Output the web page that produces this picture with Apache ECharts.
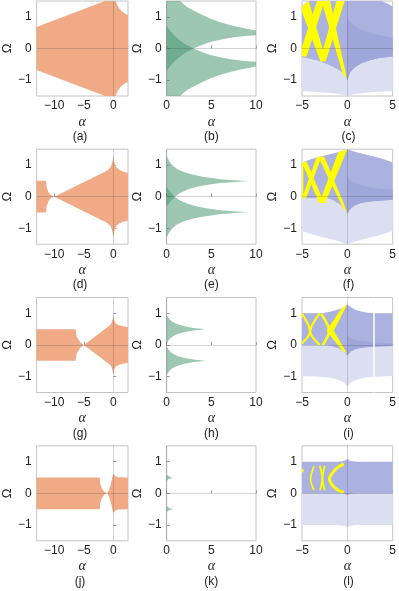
<!DOCTYPE html>
<html><head><meta charset="utf-8">
<script src="https://cdn.jsdelivr.net/npm/echarts@6/dist/echarts.min.js"></script>
<style>html,body{margin:0;padding:0;background:#fff}#c{width:399px;height:591px}</style>
</head><body><div id="c"></div>
<script>
// ---------- axes ----------
const xRangeOrange=[-13,2.5], xTicksOrange=[-10,-5,0];
const xRangeGreen=[0,10],     xTicksGreen=[0,5,10];
const xRangeBlue=[-5,5],      xTicksBlue=[-5,0,5];
const yRange=[-1.5,1.5],      yTicks=[-1,0,1];
const letters=['(a)','(b)','(c)','(d)','(e)','(f)','(g)','(h)','(i)','(j)','(k)','(l)'];

// ---------- column 1 (orange) ----------
const a_fill=[[-13,0.68],[-1.4,1.5],[0.4,1.5],[0.8,1.32],[1.5,1.16],[2.5,1.05],[2.5,-1.05],[1.5,-1.16],[0.8,-1.32],[0.4,-1.5],[-1.4,-1.5],[-13,-0.68]];
const d_fill=[[-13,0.5],[-11.4,0.5],[-11.3,0.3],[-11.0,0.15],[-10.6,0.05],[-10,0],[-1,0.83],[-0.4,0.95],[-0.12,1.12],[0,1.32],[0.12,1.12],[0.4,0.95],[1,0.85],[1.7,0.79],[2.5,0.75],
  [2.5,-0.75],[1.7,-0.79],[1,-0.85],[0.4,-0.95],[0.12,-1.12],[0,-1.32],[-0.12,-1.12],[-0.4,-0.95],[-1,-0.83],[-10,0],[-10.6,-0.05],[-11.0,-0.15],[-11.3,-0.3],[-11.4,-0.5],[-13,-0.5]];
const g_fill=[[-13,0.5],[-6.4,0.5],[-6.2,0.27],[-5.6,0.09],[-5,0],[-1,0.56],[-0.4,0.65],[-0.12,0.8],[0,0.95],[0.12,0.8],[0.4,0.68],[1,0.62],[2.5,0.56],
  [2.5,-0.56],[1,-0.62],[0.4,-0.68],[0.12,-0.8],[0,-0.95],[-0.12,-0.8],[-0.4,-0.65],[-1,-0.56],[-5,0],[-5.6,-0.09],[-6.2,-0.27],[-6.4,-0.5],[-13,-0.5]];
const j_fill=[[-13,0.5],[-2.3,0.5],[-2.2,0.3],[-1.9,0.14],[-1.5,0.04],[-1,0],[-0.8,0.08],[-0.5,0.22],[-0.25,0.42],[-0.05,0.58],[0.05,0.62],[0.3,0.55],[0.8,0.51],[2.5,0.5],
  [2.5,-0.5],[0.8,-0.51],[0.3,-0.55],[0.05,-0.62],[-0.05,-0.58],[-0.25,-0.42],[-0.5,-0.22],[-0.8,-0.08],[-1,0],[-1.5,-0.04],[-1.9,-0.14],[-2.2,-0.3],[-2.3,-0.5],[-13,-0.5]];

// ---------- column 2 (green) ----------
const b_up=[[0,-0.7],[0,1.5],[1.5,1.5],[2.2,1.33],[3,1.2],[4,1.06],[5,0.93],[6,0.83],[7,0.75],[8,0.68],[9,0.62],[10,0.57],
  [10,0.42],[9,0.4],[8,0.37],[7,0.33],[6,0.28],[5,0.21],[4,0.12],[3,0],[2,-0.15],[1.5,-0.25],[1,-0.37],[0.5,-0.52]];
const b_dn=[[0,0.7],[0,-1.5],[1.5,-1.5],[2.2,-1.33],[3,-1.2],[4,-1.06],[5,-0.93],[6,-0.83],[7,-0.75],[8,-0.68],[9,-0.62],[10,-0.57],
  [10,-0.42],[9,-0.4],[8,-0.37],[7,-0.33],[6,-0.28],[5,-0.21],[4,-0.12],[3,0],[2,0.15],[1.5,0.25],[1,0.37],[0.5,0.52]];
const e_up=[[0,-0.3],[0,1.28],[0.3,1.12],[0.7,0.98],[1.2,0.87],[2,0.77],[3,0.69],[4,0.63],[5,0.59],[6,0.55],[7,0.53],[8,0.51],[9.05,0.49],
  [8,0.47],[7,0.45],[6,0.43],[5,0.39],[3.5,0.32],[2.5,0.24],[1.5,0.12],[0.9,0],[0.5,-0.12]];
const e_dn=[[0,0.3],[0,-1.28],[0.3,-1.12],[0.7,-0.98],[1.2,-0.87],[2,-0.77],[3,-0.69],[4,-0.63],[5,-0.59],[6,-0.55],[7,-0.53],[8,-0.51],[9.05,-0.49],
  [8,-0.47],[7,-0.45],[6,-0.43],[5,-0.39],[3.5,-0.32],[2.5,-0.24],[1.5,-0.12],[0.9,0],[0.5,0.12]];
const h_up=[[0,0.04],[0,0.95],[0.2,0.85],[0.5,0.76],[1,0.68],[1.5,0.63],[2,0.59],[3,0.54],[4,0.51],[4.4,0.5],
  [4,0.49],[3,0.46],[2,0.41],[1.5,0.37],[1,0.32],[0.5,0.24],[0.2,0.15]];
const h_dn=[[0,-0.04],[0,-0.95],[0.2,-0.85],[0.5,-0.76],[1,-0.68],[1.5,-0.63],[2,-0.59],[3,-0.54],[4,-0.51],[4.4,-0.5],
  [4,-0.49],[3,-0.46],[2,-0.41],[1.5,-0.37],[1,-0.32],[0.5,-0.24],[0.2,-0.15]];
const k_up=[[0,0.59],[0.2,0.55],[0.45,0.51],[0.75,0.49],[0.45,0.47],[0.2,0.44],[0,0.39]];
const k_dn=[[0,-0.41],[0.2,-0.45],[0.45,-0.48],[0.75,-0.5],[0.45,-0.52],[0.2,-0.55],[0,-0.59]];

// ---------- column 3 (blue + yellow) ----------
const c_light=[[-5,1.32],[-4.6,1.43],[-4.2,1.5],[3.8,1.5],[4.4,1.42],[5,1.33],[5,-1.34],[3,-1.37],[1.5,-1.41],[0.5,-1.46],[0,-1.5],[-0.5,-1.46],[-1.5,-1.41],[-3,-1.38],[-5,-1.35]];
const c_mid=[[-5,1.32],[-4.6,1.43],[-4.2,1.5],[3.8,1.5],[4.4,1.42],[5,1.33],[5,-0.25],[3.5,-0.3],[2.5,-0.37],[1.5,-0.47],[0.8,-0.6],[0.3,-0.76],[0,-1.0],[-0.4,-0.8],[-1,-0.66],[-2,-0.52],[-3,-0.4],[-4,-0.33],[-5,-0.28]];
const c_dark=[[0,0.95],[0.5,0.78],[1.5,0.6],[3,0.45],[5,0.35],[5,-0.25],[3.5,-0.3],[2.5,-0.37],[1.5,-0.47],[0.8,-0.6],[0.3,-0.76],[0,-1.0]];
const c_y1=[[-5,1.32],[-4.6,1.43],[-4.25,1.5],[-2.35,-0.38],[-2.95,-0.42],[-5,1.15]];
const c_y2=[[-3.35,1.5],[-2.5,1.5],[-4.5,-0.25],[-5,-0.25],[-5,0.05]];
const c_y3=[[-2.85,1.5],[-1.9,1.5],[-0.05,-0.95],[-0.5,-0.8]];
const c_y4=[[-1.2,1.5],[-0.3,1.5],[-2.4,-0.42],[-3.0,-0.38]];

const f_light=[[-5,1.08],[-4,1.18],[-3,1.26],[-2,1.33],[-1,1.4],[-0.3,1.47],[0,1.5],[0.3,1.47],[1,1.4],[2,1.33],[3,1.26],[4,1.18],[5,1.08],
  [5,-1.08],[4,-1.18],[3,-1.26],[2,-1.33],[1,-1.4],[0.3,-1.47],[0,-1.5],[-0.3,-1.47],[-1,-1.4],[-2,-1.33],[-3,-1.26],[-4,-1.18],[-5,-1.08]];
const f_mid=[[-5,1.08],[-4,1.18],[-3,1.26],[-2,1.33],[-1,1.4],[-0.3,1.47],[0,1.5],[0.3,1.47],[1,1.4],[2,1.33],[3,1.26],[4,1.18],[5,1.08],
  [5,-0.1],[2.5,-0.15],[1.5,-0.2],[0.8,-0.28],[0.3,-0.4],[0,-0.54],[-0.3,-0.4],[-0.8,-0.25],[-1.5,-0.12],[-2.2,-0.05],[-5,-0.05]];
const f_dark=[[0,0.6],[0.5,0.48],[1.5,0.36],[3,0.27],[5,0.22],[5,-0.1],[2.5,-0.15],[1.5,-0.2],[0.8,-0.28],[0.3,-0.4],[0,-0.54]];
const f_y0=[[-5,1.07],[-4.85,1.08],[-4.85,-0.05],[-5,-0.05]];
const f_y1=[[-5,1.07],[-4.5,1.12],[-2.55,-0.2],[-3.1,-0.2]];
const f_y2=[[-3.4,1.24],[-2.85,1.26],[-4.55,-0.05],[-5,-0.05]];
const f_y3=[[-3.2,1.25],[-2.55,1.27],[-0.35,-0.25],[0,-0.52],[-0.5,-0.35]];
const f_y4=[[-1.0,1.4],[-0.3,1.47],[0,1.5],[-2.45,-0.2],[-3.1,-0.2]];

const i_light=[[-5,1.0],[5,1.0],[5,-0.98],[3,-1.0],[2,-1.03],[1,-1.1],[0.4,-1.18],[0,-1.3],[-0.4,-1.18],[-1,-1.1],[-2,-1.03],[-3,-1.0],[-5,-0.98]];
const i_mid=[[-5,1.0],[-3,1.0],[-2.5,1.02],[-1.8,1.06],[-1,1.12],[-0.4,1.19],[0,1.28],[0.4,1.19],[1,1.1],[2,1.03],[3,1.0],[5,1.0],
  [5,-0.03],[3,-0.05],[2,-0.07],[1,-0.12],[0.4,-0.2],[0,-0.33],[-0.4,-0.2],[-1,-0.1],[-1.8,-0.03],[-2.5,0.0],[-5,0.0]];
const i_dark=[[0,0.3],[0.5,0.2],[1.5,0.12],[3,0.08],[5,0.05],[5,-0.03],[3,-0.05],[2,-0.07],[1,-0.12],[0.4,-0.2],[0,-0.33]];
const i_gap=2.95;
const i_y1=[[-5,0.98],[-4.1,0.43],[-5,0.05]];
const i_y2=[[-3.05,1.0],[-4.1,0.43],[-3.05,0.0]];
const i_y3=[[-2.87,0.98],[-2.0,0.45],[-2.7,0.0]];
const i_y4=[[-2.3,0.45],[-1.5,0.45],[-0.05,1.26],[-0.6,1.18]];
const i_y5=[[-2.3,0.45],[-1.5,0.45],[-0.05,-0.26],[-0.55,-0.18]];

const l_light=[[-5,0.02],[5,0.02],[5,-1.0],[1,-1.0],[0.3,-1.03],[0,-1.07],[-0.3,-1.03],[-1,-1.0],[-5,-1.0]];
const l_mid=[[-5,1.0],[-1,1.0],[-0.3,1.03],[0,1.08],[0.3,1.03],[1,1.0],[5,1.0],[5,0.0],[1,0.0],[0.3,-0.02],[0,-0.06],[-0.3,-0.02],[-1,0],[-5,0]];
const l_y1=[[-0.4,0.93],[-0.9,0.85],[-1.4,0.73],[-1.75,0.6],[-1.97,0.47],[-1.8,0.32],[-1.4,0.18],[-0.9,0.08],[-0.4,0.03]];
const l_y2=[[-3.05,0.87],[-2.75,0.47],[-3.0,0.1]];
const l_y3=[[-2.5,0.87],[-2.75,0.47],[-2.5,0.1]];
const l_y4=[[-3.7,0.85],[-3.95,0.62],[-4.05,0.47],[-3.95,0.3],[-3.7,0.1]];
const l_y5=[[-4.95,0.78],[-4.9,0.66]];

// ---------- styling ----------
const ORANGE='#f0aa86', GREEN='rgba(67,147,107,0.52)';
const LIGHT='#dcdff2', MID='#abb2df', DARK='#9ea6da', YEL='#ffff00';

const panels=[
 {col:0,polys:[[a_fill,ORANGE]]},
 {col:1,polys:[[b_up,GREEN],[b_dn,GREEN]]},
 {col:2,polys:[[c_light,LIGHT],[c_mid,MID],[c_dark,DARK]],ypolys:[c_y1,c_y2,c_y3,c_y4]},
 {col:0,polys:[[d_fill,ORANGE]]},
 {col:1,polys:[[e_up,GREEN],[e_dn,GREEN]]},
 {col:2,polys:[[f_light,LIGHT],[f_mid,MID],[f_dark,DARK]],ypolys:[f_y0,f_y1,f_y2,f_y3,f_y4]},
 {col:0,polys:[[g_fill,ORANGE]]},
 {col:1,polys:[[h_up,GREEN],[h_dn,GREEN]]},
 {col:2,polys:[[i_light,LIGHT],[i_mid,MID],[i_dark,DARK]],ypolys:[i_y4,i_y5],ylines:[[i_y1,2.2],[i_y2,2.2],[i_y3,2.6]],gap:i_gap},
 {col:0,polys:[[j_fill,ORANGE]]},
 {col:1,polys:[[k_up,GREEN],[k_dn,GREEN]]},
 {col:2,polys:[[l_light,LIGHT],[l_mid,MID]],ylines:[[l_y1,3],[l_y2,1.8],[l_y3,1.8],[l_y4,1.6],[l_y5,1.5]]}
];

const COLS=[{left:32,width:96,x:xRangeOrange,t:xTicksOrange,gap:18},{left:166.7,width:89.3,x:xRangeGreen,t:xTicksGreen,gap:21},{left:302,width:93,x:xRangeBlue,t:xTicksBlue,gap:20}];
const ROWS=[1,149.2,297.5,445.8], H=95;
const fmt=v=>String(v).replace('-','\u2212');
const TXT='#222', FONT='Liberation Sans';

const grid=[],xAxis=[],yAxis=[],series=[],graphic=[];
panels.forEach((p,i)=>{
  const c=COLS[p.col], top=ROWS[Math.floor(i/3)];
  grid.push({left:c.left,top:top,width:c.width,height:H,show:true,borderColor:'#c4c4c4',borderWidth:1,backgroundColor:'transparent'});
  xAxis.push({type:'value',gridIndex:i,min:c.x[0],max:c.x[1],
    axisLine:{show:false},splitLine:{show:false},
    axisTick:{show:true,inside:true,length:3,lineStyle:{color:'#999'},customValues:c.t},
    axisLabel:{customValues:c.t,formatter:fmt,fontSize:12,color:TXT,margin:4,fontFamily:FONT},
    name:'α',nameLocation:'middle',nameGap:19,
    nameTextStyle:{fontStyle:'italic',fontFamily:'Liberation Serif',fontSize:14,color:TXT}});
  yAxis.push({type:'value',gridIndex:i,min:yRange[0],max:yRange[1],
    axisLine:{show:false},splitLine:{show:false},
    axisTick:{show:true,inside:true,length:3,lineStyle:{color:'#999'},customValues:yTicks},
    axisLabel:{customValues:yTicks,formatter:fmt,fontSize:12,color:TXT,margin:5,fontFamily:FONT},
    name:'Ω',nameLocation:'middle',nameGap:c.gap,
    nameTextStyle:{fontFamily:FONT,fontSize:13,color:TXT}});
  const poly=(pts,fill,z)=>({type:'custom',xAxisIndex:i,yAxisIndex:i,silent:true,z:z,animation:false,
    data:pts,renderItem:(params,api)=>{
      if(params.dataIndex!==0) return null;
      return {type:'polygon',shape:{points:pts.map(q=>api.coord(q))},style:{fill:fill}};
    }});
  p.polys.forEach(([pts,fill])=>series.push(poly(pts,fill,2)));
  series.push({type:'line',xAxisIndex:i,yAxisIndex:i,data:[],silent:true,z:3,animation:false,
    markLine:{symbol:'none',silent:true,animation:false,label:{show:false},
      lineStyle:{type:'solid',width:1,color:'rgba(60,60,60,0.22)'},data:[{xAxis:0},{yAxis:0}]}});
  if(p.gap!==undefined){
    series.push({type:'line',xAxisIndex:i,yAxisIndex:i,data:[],silent:true,z:3,animation:false,
      markLine:{symbol:'none',silent:true,animation:false,label:{show:false},
        lineStyle:{type:'solid',width:1.5,color:'#ffffff'},data:[{xAxis:p.gap}]}});
  }
  (p.ypolys||[]).forEach(pts=>series.push(poly(pts,YEL,4)));
  (p.ylines||[]).forEach(([pts,w])=>series.push({type:'line',xAxisIndex:i,yAxisIndex:i,data:pts,showSymbol:false,symbol:'none',silent:true,z:4,animation:false,
    smooth:0.3,lineStyle:{color:YEL,width:w}}));
  graphic.push({type:'text',x:c.left+c.width/2,y:top+135.7,
    style:{text:letters[i],align:'center',verticalAlign:'middle',fontSize:12,fontFamily:FONT,fill:TXT}});
});

const chart=echarts.init(document.getElementById('c'),null,{renderer:'canvas'});
chart.setOption({animation:false,backgroundColor:'#fff',grid,xAxis,yAxis,series,graphic});
</script></body></html>
